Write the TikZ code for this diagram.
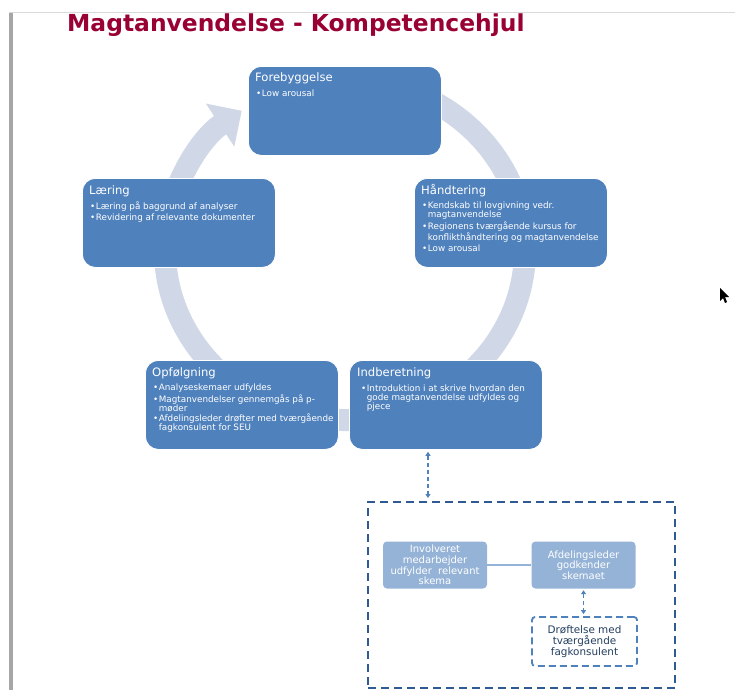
\documentclass[tikz,border=0pt]{standalone}
\usepackage{fontspec}
\setmainfont{DejaVu Sans}
\usetikzlibrary{arrows.meta}

\definecolor{stageblue}{HTML}{4F81BD}
\definecolor{wheelgray}{HTML}{D0D8E8}
\definecolor{paleblue}{HTML}{95B3D7}
\definecolor{titlered}{HTML}{990033}
\definecolor{dashblue}{HTML}{2F5A94}
\definecolor{navytext}{HTML}{243F60}

\newcommand\stagebul{•\kern0.5pt}
\newcommand\stagehang{\hphantom{•\kern0.5pt}}

\tikzset{
    stage/.style={draw=white, line width=0.8pt, fill=stageblue, rounded corners=13pt,
        minimum width=193pt, minimum height=89pt, anchor=north west, inner sep=0pt},
    stagehead/.style={anchor=base west, inner sep=0pt, text=white,
        font=\fontsize{11.6}{13}\selectfont},
    stagetext/.style={anchor=north west, inner sep=0pt, align=left, text=white,
        font=\fontsize{8.8}{9}\selectfont},
    stepbox/.style={fill=paleblue, rounded corners=4pt, minimum width=104pt,
        minimum height=47pt, inner sep=0pt, align=center, text=white,
        font=\fontsize{10}{10.6}\selectfont},
    link/.style={stageblue, line width=1.5pt, dash pattern=on 4pt off 3pt,
        {Triangle[width=5pt,length=4pt]}-{Triangle[width=5pt,length=4pt]}}
}

\begin{document}
\begin{tikzpicture}[x=1pt, y=-1pt]
    \useasboundingbox (0,0) rectangle (735,690);

    % Page edges
    \draw [line width=1pt, gray!30] (9,13) -- (735,13);
    \fill [gray!70] (9,13) rectangle (13,690);

    % Title
    \node [anchor=base west, inner sep=0pt, text=titlered, font=\fontsize{23.4}{26}\selectfont\bfseries]
        (title) at (67,32) {Magtanvendelse - Kompetencehjul};

    % Wheel with arrow head
    \draw [wheelgray, line width=22pt, -{Triangle[width=50pt,length=26pt]}]
        (345,250) ++(280:180 and 170) arc [start angle=280, end angle=595, x radius=180, y radius=170];

    % Stages of the wheel
    \node [stage] (forebyg) at (248,66) {};
    \node [stage] (haandt) at (414,178) {};
    \node [stage] (laering) at (82,178) {};
    \node [stage] (opfolg) at (145,360) {};
    \node [stage] (indber) at (349,360) {};

    % Stage headings
    \node [stagehead] (forebyg-head) at (255,82) {Forebyggelse};
    \node [stagehead] (haandt-head) at (421,194) {Håndtering};
    \node [stagehead] (laering-head) at (89,194) {Læring};
    \node [stagehead] (opfolg-head) at (152,376) {Opfølgning};
    \node [stagehead] (indber-head) at (357,376) {Indberetning};

    % Stage bullets
    \node [stagetext] (forebyg-text) at (256,89.3) {\stagebul Low arousal};
    \node [stagetext] (haandt-text) at (422,201.3) {\stagebul Kendskab til lovgivning vedr.\\
        \stagehang magtanvendelse\\[2pt]
        \stagebul Regionens tværgående kursus for\\
        \stagehang konflikthåndtering og magtanvendelse\\[2pt]
        \stagebul Low arousal};
    \node [stagetext] (laering-text) at (90,201.3) {\stagebul Læring på baggrund af analyser\\[2pt]
        \stagebul Revidering af relevante dokumenter};
    \node [stagetext] (opfolg-text) at (153,383.3) {\stagebul Analyseskemaer udfyldes\\[1.5pt]
        \stagebul Magtanvendelser gennemgås på p-\\
        \stagehang møder\\[1.5pt]
        \stagebul Afdelingsleder drøfter med tværgående\\
        \stagehang fagkonsulent for SEU};
    \node [stagetext] (indber-text) at (361,384.3) {\stagebul Introduktion i at skrive hvordan den\\
        \stagehang gode magtanvendelse udfyldes og\\
        \stagehang pjece};

    % Reporting process
    \node [draw=dashblue, line width=2pt, dash pattern=on 8pt off 5pt, minimum width=307pt,
        minimum height=186pt, inner sep=0pt] (proces) at (521.5,595) {};
    \node [stepbox] (invol) at (435,565) {Involveret\\medarbejder\\udfylder\ \ relevant\\skema};
    \node [stepbox] (afdleder) at (583.5,565) {Afdelingsleder\\godkender\\skemaet};
    \node [draw=stageblue, line width=1.8pt, dash pattern=on 7pt off 4pt, fill=white,
        rounded corners=3pt, minimum width=105pt, minimum height=49pt, inner sep=0pt,
        align=center, text=navytext, font=\fontsize{10.4}{11.2}\selectfont]
        (droeft) at (584.5,641.5) {Drøftelse med\\tværgående\\fagkonsulent};

    % Connections
    \draw [link, shorten <=2pt, shorten >=3pt] ([xshift=79pt]indber.south west)
        -- ([xshift=79pt]indber.south west |- proces.north);
    \draw [paleblue, line width=1.5pt] (invol.east) -- (afdleder.west);
    \draw [link, shorten <=1.5pt, shorten >=2pt] (afdleder.south) -- (afdleder.south |- droeft.north);

    % Mouse pointer
    \fill [black] (720,288) -- (720,301) -- (723,298) -- (725,303) -- (727,302)
        -- (725,297) -- (729,297) -- cycle;
\end{tikzpicture}
\end{document}
